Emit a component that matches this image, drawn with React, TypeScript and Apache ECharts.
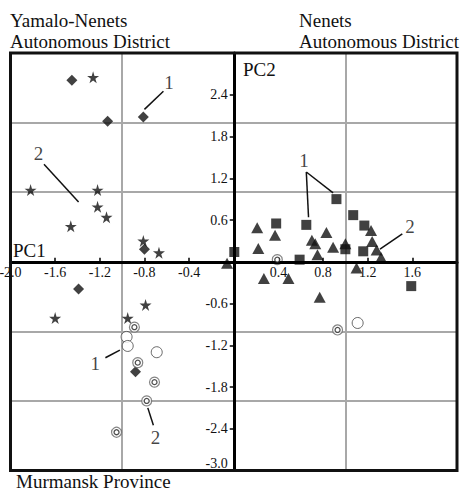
import React, { useEffect, useRef } from "react";
import * as echarts from "echarts";

const diamonds: number[][] = [[-1.45, 2.61], [-1.13, 2.02], [-0.81, 2.08], [-0.80, 0.18], [-1.39, -0.39], [-0.88, -1.58]];
const stars: number[][] = [[-1.26, 2.65], [-1.82, 1.03], [-1.22, 1.03], [-1.22, 0.79], [-1.14, 0.64], [-1.46, 0.51], [-0.81, 0.30], [-0.67, 0.13], [-1.60, -0.81], [-0.79, -0.62], [-0.95, -0.81]];
const squares: number[][] = [[0.92, 0.90], [1.07, 0.67], [1.17, 0.52], [1.16, 0.15], [0.65, 0.53], [0.38, 0.55], [0.005, 0.14], [0.59, 0.03], [1.0, 0.18], [1.59, -0.35]];
const triangles: number[][] = [[1.23, 0.45], [1.24, 0.29], [1.28, 0.17], [1.32, 0.06], [0.37, 0.38], [0.21, 0.49], [0.22, 0.19], [-0.06, -0.02], [0.75, 0.10], [0.70, 0.31], [0.73, 0.26], [0.83, 0.42], [0.89, 0.21], [1.0, 0.26], [1.10, -0.09], [0.27, -0.24], [0.49, -0.24], [0.77, -0.51]];
const openCircles: number[][] = [[-0.96, -1.08], [-0.95, -1.21], [-0.69, -1.30], [1.11, -0.88]];
const doubleCircles: number[][] = [[0.39, 0.03], [-0.89, -0.94], [-0.86, -1.45], [-0.71, -1.73], [-0.78, -2.0], [-1.05, -2.45], [0.93, -0.98]];

const annotLines: number[][][] = [
  [[-0.80, 2.19], [-0.63, 2.45]],
  [[-1.70, 1.40], [-1.39, 0.86]],
  [[0.65, 1.29], [0.67, 0.64]],
  [[0.65, 1.29], [0.89, 0.99]],
  [[1.51, 0.40], [1.31, 0.18]],
  [[-1.15, -1.38], [-1.02, -1.27]],
  [[-0.77, -2.10], [-0.72, -2.35]],
];
const annotLabels: (number | string)[][] = [[-0.58, 2.57, "1"], [-1.75, 1.56, "2"], [0.63, 1.46, "1"], [1.58, 0.50, "2"], [-1.24, -1.46, "1"], [-0.70, -2.52, "2"]];

const SERIF = '"Liberation Serif", "Times New Roman", serif';
const STAR = "path://M50,0 L61,35 L98,35 L68,57 L79,91 L50,70 L21,91 L32,57 L2,35 L39,35 Z";
const INK = "#111";

const GRID_LEFT = 10.5;
const GRID_TOP = 53;
const GRID_W = 446.5;
const GRID_H = 417.5;

export default function App() {
  const ref = useRef<HTMLDivElement>(null);
  useEffect(() => {
    if (!ref.current) return;
    const chart = echarts.init(ref.current, undefined, { renderer: "svg" });
    const near = (v: number, t: number) => Math.abs(v - t) < 1e-6;
    const title = (text: string, left: number, top: number) => ({
      type: "text", left, top,
      style: { text, font: `19px ${SERIF}`, fill: INK, lineHeight: 19 },
    });
    chart.setOption({
      animation: false,
      backgroundColor: "#fff",
      grid: {
        left: GRID_LEFT, top: GRID_TOP, width: GRID_W, height: GRID_H,
        containLabel: false, outerBoundsMode: "none",
        show: true, borderColor: "#111", borderWidth: 3, z: 10,
      },
      xAxis: [
        {
          type: "value", min: -2, max: 2, interval: 0.4, z: 5, position: "bottom",
          offset: -GRID_H / 2,
          axisLine: { onZero: false, lineStyle: { color: "#000", width: 3 } },
          axisTick: { inside: true, length: 4, lineStyle: { color: "#000", width: 1.5 } },
          axisLabel: {
            margin: 4, fontFamily: SERIF, fontSize: 14, color: "#111",
            formatter: (v: number) => (near(v, 0) || near(v, 2) ? "" : v.toFixed(1)),
          },
          splitLine: { show: false },
        },
        {
          type: "value", min: -2, max: 2, interval: 1, z: 0, position: "top",
          axisLine: { show: false, onZero: false }, axisTick: { show: false }, axisLabel: { show: false },
          splitLine: { show: true, lineStyle: { color: "#a8a8a8", width: 2 } },
        },
      ],
      yAxis: [
        {
          type: "value", min: -3, max: 3, interval: 0.6, z: 5, position: "left",
          offset: -GRID_W / 2,
          axisLine: { onZero: false, lineStyle: { color: "#000", width: 3 } },
          axisTick: { length: 4, lineStyle: { color: "#000", width: 1.5 } },
          axisLabel: {
            margin: 6, fontFamily: SERIF, fontSize: 14, color: "#111",
            verticalAlignMinLabel: "bottom",
            formatter: (v: number) => (near(v, 0) || near(v, 3) ? "" : v.toFixed(1)),
          },
          splitLine: { show: false },
        },
        {
          type: "value", min: -3, max: 3, interval: 1, z: 0, position: "right",
          axisLine: { show: false, onZero: false }, axisTick: { show: false }, axisLabel: { show: false },
          splitLine: { show: true, lineStyle: { color: "#a8a8a8", width: 2 } },
        },
      ],
      series: [
        {
          type: "scatter", data: annotLabels, symbolSize: 1, z: 3,
          itemStyle: { color: "rgba(0,0,0,0)" },
          label: {
            show: true, position: "inside", formatter: (p: any) => p.data[2],
            fontFamily: SERIF, fontSize: 19, color: INK, textBorderWidth: 0,
          },
          markLine: {
            silent: true, symbol: "none", animation: false,
            label: { show: false },
            lineStyle: { color: INK, width: 1.5, type: "solid" },
            data: annotLines.map((l) => [{ coord: l[0] }, { coord: l[1] }]),
          },
        },
        { type: "scatter", data: diamonds, symbol: "diamond", symbolSize: 11, itemStyle: { color: INK }, z: 4 },
        { type: "scatter", data: stars, symbol: STAR, symbolSize: 12, itemStyle: { color: INK }, z: 4 },
        { type: "scatter", data: squares, symbol: "rect", symbolSize: 10, itemStyle: { color: INK }, z: 4 },
        { type: "scatter", data: triangles, symbol: "triangle", symbolSize: [12, 11], itemStyle: { color: INK }, z: 4 },
        { type: "scatter", data: openCircles, symbol: "circle", symbolSize: 11, itemStyle: { color: "#fff", borderColor: "#444", borderWidth: 1 }, z: 4 },
        { type: "scatter", data: doubleCircles, symbol: "circle", symbolSize: 10, itemStyle: { color: "#fff", borderColor: "#666", borderWidth: 1.2 }, z: 4 },
        { type: "scatter", data: doubleCircles, symbol: "circle", symbolSize: 5, itemStyle: { color: "#fff", borderColor: "#222", borderWidth: 1.3 }, z: 5 },
      ],
      graphic: [
        title("Yamalo-Nenets", 10, 11),
        title("Autonomous District", 10, 32),
        title("Nenets", 299, 11),
        title("Autonomous District", 299, 32),
        title("Murmansk Province", 16, 472),
        title("PC1", 13, 241),
        title("PC2", 243, 60),
      ],
    });
    return () => chart.dispose();
  }, []);
  return <div ref={ref} style={{ position: "fixed", left: 0, top: 0, width: 466, height: 492, background: "#fff" }} />;
}
